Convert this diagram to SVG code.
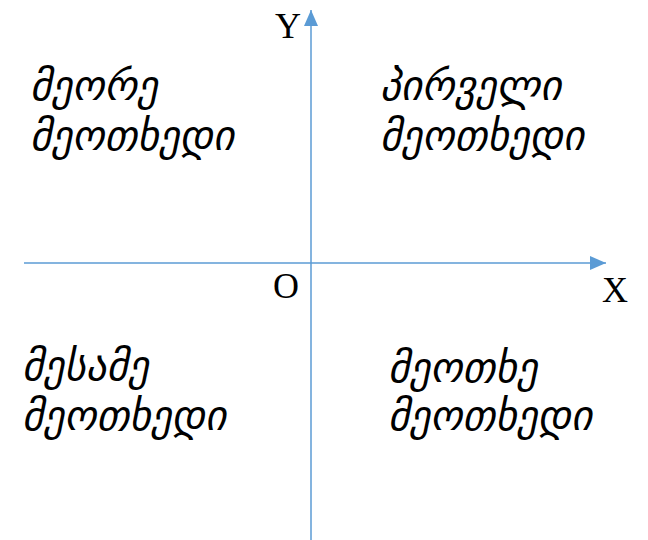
<svg xmlns="http://www.w3.org/2000/svg" width="648" height="540" viewBox="0 0 648 540">
<style>
.ax{stroke:#5B9BD5;stroke-width:1.5;fill:none}
.lbl{font-family:"Liberation Serif",serif;font-size:36px;fill:#000}
.geo{font-family:"DejaVu Sans",sans-serif;font-style:italic;font-size:41px;fill:#000}
</style>
<defs>
<marker id="ah" viewBox="0 0 16 14" refX="16" refY="7" markerWidth="16" markerHeight="14" markerUnits="userSpaceOnUse" orient="auto">
<path d="M0,0 L16,7 L0,14 Z" fill="#5B9BD5"/>
</marker>
</defs>
<rect width="648" height="540" fill="#fff"/>
<g id="connectors">
<line class="ax" x1="311" y1="540" x2="311" y2="10" marker-end="url(#ah)"/>
<line class="ax" x1="24" y1="263" x2="606" y2="263" marker-end="url(#ah)"/>
</g>
<g id="labels">
<text class="lbl" x="275" y="38">Y</text>
<text class="lbl" x="273" y="298">O</text>
<text class="lbl" x="602" y="302">X</text>
</g>
<g id="q2"><text class="geo" x="30" y="100">მეორე</text><text class="geo" x="30" y="150">მეოთხედი</text></g>
<g id="q1"><text class="geo" x="380" y="100">პირველი</text><text class="geo" x="380" y="150">მეოთხედი</text></g>
<g id="q3"><text class="geo" x="22" y="380">მესამე</text><text class="geo" x="22" y="430">მეოთხედი</text></g>
<g id="q4"><text class="geo" x="388" y="382">მეოთხე</text><text class="geo" x="388" y="430">მეოთხედი</text></g>
</svg>
